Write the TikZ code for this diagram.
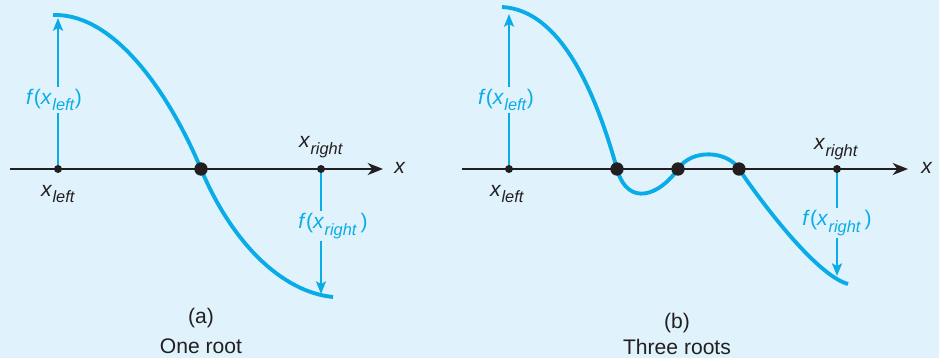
\documentclass[tikz,border=0pt]{standalone}
\usepackage{fontspec}
\setmainfont{Liberation Sans}
\usetikzlibrary{arrows.meta,positioning}
\definecolor{rtCyan}{RGB}{ 10,172,232}
\definecolor{rtBg}  {RGB}{224,243,252}
\definecolor{rtInk} {RGB}{ 35, 31, 32}
\newcommand{\xsub}[1]{\textit{x}\kern0.3pt\raisebox{-0.6ex}{\fontsize{14}{14}\selectfont\textit{#1}}}

\begin{document}
\begin{tikzpicture}[x=0.03cm,y=-0.03cm,
  every node/.style={font=\fontsize{18}{20}\selectfont,text=rtInk,inner sep=1pt},
  axis/.style={draw=rtInk,line width=1.7pt,-{Stealth[length=4.6mm,width=3.6mm,inset=1.4mm]}},
  fcurve/.style={draw=rtCyan,line width=3.3pt},
  farrow/.style={draw=rtCyan,line width=1.6pt,-{Stealth[length=3.8mm,width=3mm,inset=0.8mm]}},
  flabel/.style={fill=rtBg,text=rtCyan,inner sep=2pt},
  pdot/.style={circle,fill=rtInk,minimum size=0.24cm,inner sep=0pt},
  rdot/.style={circle,fill=rtInk,minimum size=0.4cm,inner sep=0pt}
]
\fill[rtBg] (0,0) rectangle (939,358);
\useasboundingbox (0,0) rectangle (939,358);

% (a) one root
\draw[fcurve] (53,15) .. controls (115,13) and (170,95) .. (201,169)
              .. controls (232,243) and (282,292) .. (333,297);
\coordinate (a-start) at (10,169);
\coordinate (a-end)   at (383,169);
\draw[axis] (a-start) -- (a-end);
\node (a-x) at (400,168) {\textit{x}};
\coordinate (a-ftop) at (58,18);
\coordinate (a-fbot) at (321,294);
\draw[farrow] (58,169) -- (a-ftop);
\draw[farrow] (321,169) -- (a-fbot);
\node[pdot] (a-xl)   at (58,169) {};
\node[rdot] (a-root) at (201,169) {};
\node[pdot] (a-xr)   at (321,169) {};
\node[flabel] (a-fl) at (54,100) {\textit{f}(\xsub{left})};
\node[flabel] (a-fr) at (333,226) {\textit{f}(\xsub{right}\,)};
\node (a-lxl) at (58,194) {\xsub{left}};
\node (a-lxr) at (321,147) {\xsub{right}};
\node (a-cap)  at (201,318) {(a)};
\node (a-name) at (201,346) {One root};

% (b) three roots
\draw[fcurve] (502,7) .. controls (560,10) and (595,90) .. (617,169)
              .. controls (628,208) and (660,195) .. (678,169)
              .. controls (692,148) and (728,151) .. (739,169)
              .. controls (757,196) and (815,275) .. (848,284);
\coordinate (b-start) at (462,169);
\coordinate (b-end)   at (908,169);
\draw[axis] (b-start) -- (b-end);
\node (b-x) at (927,168) {\textit{x}};
\coordinate (b-ftop) at (509,14);
\coordinate (b-fbot) at (837,276);
\draw[farrow] (509,169) -- (b-ftop);
\draw[farrow] (837,169) -- (b-fbot);
\node[pdot] (b-xl) at (509,169) {};
\node[rdot] (b-r1) at (617,169) {};
\node[rdot] (b-r2) at (678,169) {};
\node[rdot] (b-r3) at (739,169) {};
\node[pdot] (b-xr) at (837,169) {};
\node[flabel] (b-fl) at (506,100) {\textit{f}(\xsub{left})};
\node[flabel] (b-fr) at (837,223) {\textit{f}(\xsub{right}\,)};
\node (b-lxl) at (507,194) {\xsub{left}};
\node (b-lxr) at (836,149) {\xsub{right}};
\node (b-cap)  at (677,323) {(b)};
\node (b-name) at (677,347) {Three roots};
\end{tikzpicture}
\end{document}
